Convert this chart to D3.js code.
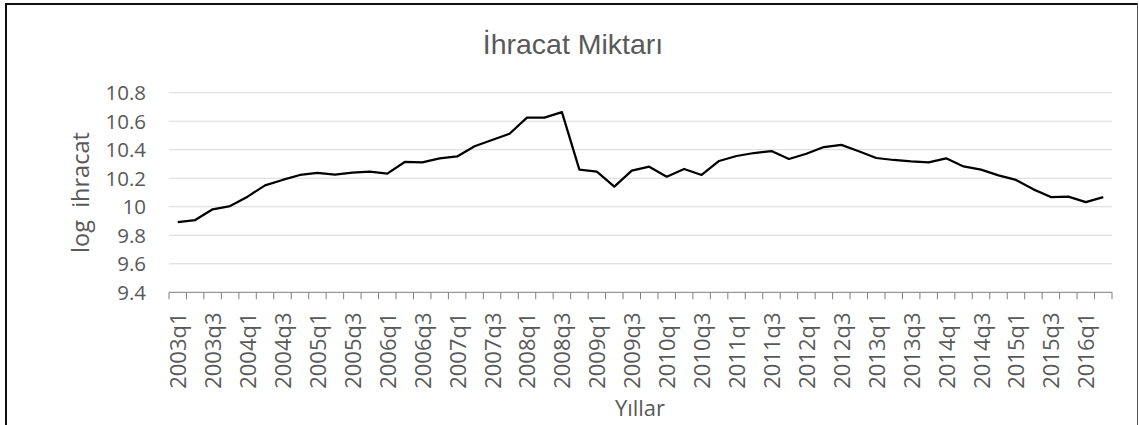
<!DOCTYPE html>
<html>
<head>
<meta charset="utf-8">
<script src="https://cdn.jsdelivr.net/npm/d3@7"></script>
<style>
  body { margin: 0; background: #fff; }
  text { font-family: "Open Sans", "Noto Sans", sans-serif; fill: #595959; }
</style>
</head>
<body>
<div id="the_chart"></div>
<script>
// quarters 2003q1 .. 2016q2
var years = d3.range(2003, 2017);
var quarters = [];
years.forEach(function (y) {
    [1, 2, 3, 4].forEach(function (q) {
        if (y == 2016 && q > 2) return;
        quarters.push(y + "q" + q);
    });
});

var values = [9.893, 9.907, 9.982, 10.005, 10.071, 10.150, 10.188, 10.223, 10.237, 10.225,
    10.239, 10.246, 10.232, 10.314, 10.311, 10.340, 10.353, 10.424, 10.468, 10.512,
    10.625, 10.625, 10.664, 10.260, 10.246, 10.141, 10.253, 10.281, 10.211, 10.265,
    10.223, 10.321, 10.356, 10.377, 10.391, 10.335, 10.372, 10.419, 10.434, 10.389,
    10.342, 10.328, 10.318, 10.311, 10.340, 10.283, 10.260, 10.220, 10.188, 10.122,
    10.068, 10.071, 10.033, 10.068];

var yTicks = [9.4, 9.6, 9.8, 10, 10.2, 10.4, 10.6, 10.8];

var w = 1139;
var h = 425;

var svg = d3.select("#the_chart")
    .append("svg")
    .attr("width", w)
    .attr("height", h);

// chart frame
svg.append("line")
    .attr("x1", 6).attr("x2", 6)
    .attr("y1", 3).attr("y2", h)
    .attr("stroke", "#111").attr("stroke-width", 2);
svg.append("line")
    .attr("x1", 5).attr("x2", 1138)
    .attr("y1", 4).attr("y2", 4)
    .attr("stroke", "#111").attr("stroke-width", 2);
svg.append("line")
    .attr("x1", 1137.5).attr("x2", 1137.5)
    .attr("y1", 3).attr("y2", h)
    .attr("stroke", "#555").attr("stroke-width", 1);

var pLeft = 169, pRight = 1112, pTop = 92.7, pBottom = 292.3;

var xscale = d3.scaleBand()
    .domain(quarters)
    .range([pLeft, pRight]);

var yscale = d3.scaleLinear()
    .domain([9.4, 10.8])
    .range([pBottom, pTop]);

// gridlines
svg.selectAll("line.grid")
    .data(yTicks.slice(1))
    .enter().append("line")
    .attr("class", "grid")
    .attr("x1", pLeft)
    .attr("x2", pRight)
    .attr("y1", function (d) { return yscale(d); })
    .attr("y2", function (d) { return yscale(d); })
    .attr("stroke", "#d9d9d9")
    .attr("stroke-width", 1);

// y labels
svg.selectAll("text.ylab")
    .data(yTicks)
    .enter().append("text")
    .attr("class", "ylab")
    .attr("x", 146)
    .attr("y", function (d) { return yscale(d) + 7.5; })
    .attr("text-anchor", "end")
    .style("font-size", "20.5px")
    .text(function (d) { return d3.format("")(d); });

// x axis line and ticks
svg.append("line")
    .attr("x1", pLeft)
    .attr("x2", pRight)
    .attr("y1", pBottom)
    .attr("y2", pBottom)
    .attr("stroke", "#7f7f7f")
    .attr("stroke-width", 1);

var tickPos = quarters.map(function (q) { return xscale(q); }).concat([pRight]);
svg.selectAll("line.tick")
    .data(tickPos)
    .enter().append("line")
    .attr("class", "tick")
    .attr("x1", function (d) { return d; })
    .attr("x2", function (d) { return d; })
    .attr("y1", pBottom)
    .attr("y2", pBottom + 7)
    .attr("stroke", "#7f7f7f")
    .attr("stroke-width", 1);

// x labels, every second quarter
svg.selectAll("text.xlab")
    .data(quarters.filter(function (d, i) { return i % 2 == 0; }))
    .enter().append("text")
    .attr("class", "xlab")
    .attr("transform", function (d) {
        return "translate(" + (xscale(d) + xscale.bandwidth() / 2 + 8.5) + "," + 312.5 + ") rotate(-90)";
    })
    .attr("text-anchor", "end")
    .style("font-size", "22px")
    .text(function (d) { return d; });

// line
var line = d3.line()
    .x(function (d, i) { return xscale(quarters[i]) + xscale.bandwidth() / 2; })
    .y(function (d) { return yscale(d); });

svg.append("path")
    .datum(values)
    .attr("d", line)
    .attr("fill", "none")
    .attr("stroke", "#000")
    .attr("stroke-width", 2.25)
    .attr("stroke-linejoin", "round");

// titles
svg.append("text")
    .attr("x", 573)
    .attr("y", 54)
    .attr("text-anchor", "middle")
    .style("font-family", "'Liberation Sans', Arial, sans-serif")
    .style("font-size", "28.5px")
    .text("İhracat Miktarı");

svg.append("text")
    .attr("transform", "translate(89,192.5) rotate(-90)")
    .attr("text-anchor", "middle")
    .style("font-size", "23.5px")
    .style("white-space", "pre")
    .text("log  ihracat");

svg.append("text")
    .attr("x", 640)
    .attr("y", 416)
    .attr("text-anchor", "middle")
    .style("font-size", "22px")
    .text("Yıllar");
</script>
</body>
</html>
